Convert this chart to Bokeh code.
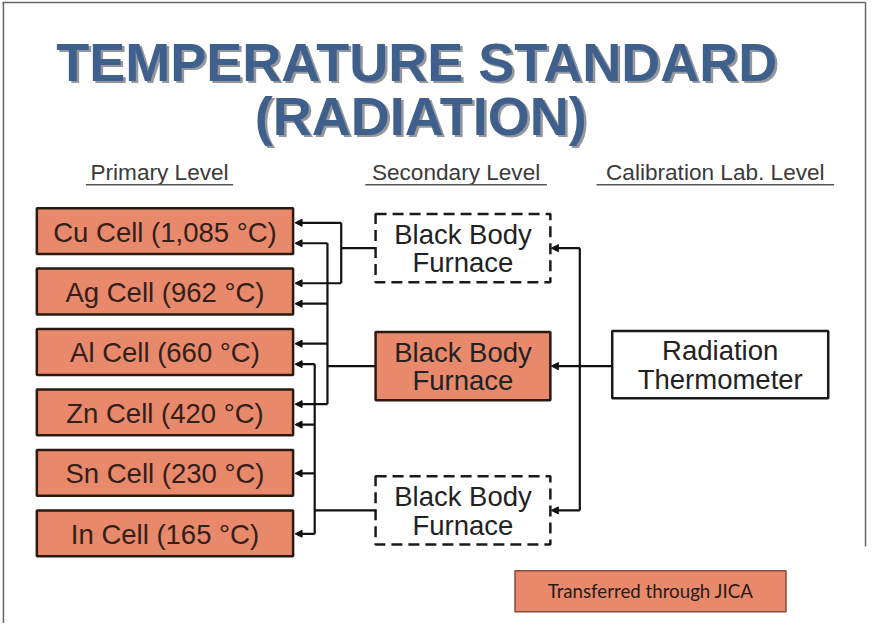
from bokeh.plotting import figure
from bokeh.models import Range1d, ColumnDataSource, Arrow, NormalHead
from bokeh.core.properties import value
from bokeh.embed import file_html
from bokeh.resources import INLINE

# ---------------- content ----------------
title_lines = ["TEMPERATURE STANDARD", "(RADIATION)"]
level_labels = ["Primary Level", "Secondary Level", "Calibration Lab. Level"]
cell_elements = ["Cu", "Ag", "Al", "Zn", "Sn", "In"]
cell_temps = ["1,085", "962", "660", "420", "230", "165"]
furnace_label = ["Black Body", "Furnace"]
furnace_transferred = [False, True, False]
furnace_links = [["Cu", "Ag"], ["Cu", "Ag", "Al", "Zn"], ["Al", "Zn", "Sn", "In"]]
instrument_label = ["Radiation", "Thermometer"]
legend_label = "Transferred through JICA"

# ---------------- layout (pixels of the 883x639 picture) ----------------
W, H = 867, 623
RW, RH = 883, 639
S = W / RW
def px(n):
    return f"{n * S:.1f}px"

SALMON = "#E9896B"
EDGE = "#2a1a12"
FONT = "Liberation Sans"
TITLE_FONT = "Liberation Sans"

CELL_L, CELL_R = 37, 298
CELL_TOP0, CELL_H, CELL_STEP = 213, 47, 62
SLOT2 = [15, 36]
SLOT1 = 24
BUS_X = [347, 333, 320]
FUR_L, FUR_R = 382, 560
FUR_TOP = [219, 340, 488]
FUR_H = 70
RIGHT_BUS_X = 590
TH_L, TH_R, TH_T, TH_B = 623, 843, 339, 408

p = figure(width=W, height=H, x_range=Range1d(0, RW), y_range=Range1d(RH, 0),
           output_backend="svg", toolbar_location=None, min_border=0)
p.axis.visible = False
p.grid.visible = False
p.outline_line_color = None
p.background_fill_color = "white"

# frame (top, left, right)
p.segment(x0=[2, 3, 881], y0=[2, 2, 2], x1=[881, 3, 881], y1=[2, 639, 560],
          line_color="#666666", line_width=1.5)

# title
title_y = [63, 118]
title_x = [424, 428]
p.text(x=[x + 2.5 for x in title_x], y=[y + 2.5 for y in title_y], text=title_lines,
       text_font=value(TITLE_FONT), text_font_style="bold", text_font_size=px(55),
       text_color="#2a2f38", text_alpha=0.5, text_align="center", text_baseline="middle")
p.text(x=title_x, y=title_y, text=title_lines,
       text_font=value(TITLE_FONT), text_font_style="bold", text_font_size=px(55),
       text_color="#3f5f8c", text_align="center", text_baseline="middle")

# level headers
hx = [162, 464, 728]
hw = [150, 185, 242]
p.text(x=hx, y=[176] * 3, text=level_labels, text_font=value(FONT), text_font_size=px(23),
       text_color="#3a3a3a", text_align="center", text_baseline="middle")
p.segment(x0=[x - w / 2 for x, w in zip(hx, hw)], x1=[x + w / 2 for x, w in zip(hx, hw)],
          y0=[189] * 3, y1=[189] * 3, line_color="#555555", line_width=1.5)

# cells
cell_top = [CELL_TOP0 + i * CELL_STEP for i in range(len(cell_elements))]
p.quad(left=[CELL_L] * 6, right=[CELL_R] * 6, top=cell_top, bottom=[t + CELL_H for t in cell_top],
       fill_color=SALMON, line_color=EDGE, line_width=2.5)
p.text(x=[(CELL_L + CELL_R) / 2] * 6, y=[t + CELL_H / 2 + 1 for t in cell_top],
       text=[f"{e} Cell ({t} °C)" for e, t in zip(cell_elements, cell_temps)],
       text_font=value(FONT), text_font_size=px(28), text_color="#33201a",
       text_align="center", text_baseline="middle")

# furnaces
fur_cy = [t + FUR_H / 2 for t in FUR_TOP]
for i, t in enumerate(FUR_TOP):
    if furnace_transferred[i]:
        p.quad(left=[FUR_L], right=[FUR_R], top=[t], bottom=[t + FUR_H],
               fill_color=SALMON, line_color=EDGE, line_width=2.5)
    else:
        p.quad(left=[FUR_L], right=[FUR_R], top=[t], bottom=[t + FUR_H],
               fill_color="white", line_color="#1a1a1a", line_width=2.5, line_dash="11 6")
    p.text(x=[(FUR_L + FUR_R) / 2] * 2, y=[fur_cy[i] - 14, fur_cy[i] + 15], text=furnace_label,
           text_font=value(FONT), text_font_size=px(28), text_color="#222222",
           text_align="center", text_baseline="middle")

# connections cells <- furnaces
links_per_cell = {e: [] for e in cell_elements}
for fi, lst in enumerate(furnace_links):
    for e in lst:
        links_per_cell[e].append(fi)
arrow_y = {}
for ci, e in enumerate(cell_elements):
    fl = links_per_cell[e]
    for k, fi in enumerate(fl):
        off = SLOT2[k] if len(fl) == 2 else SLOT1
        arrow_y[(fi, e)] = cell_top[ci] + off

ax0, ay0, ax1, ay1 = [], [], [], []
sx0, sy0, sx1, sy1 = [], [], [], []
for fi, lst in enumerate(furnace_links):
    ys = [arrow_y[(fi, e)] for e in lst]
    bx = BUS_X[fi]
    sx0 += [bx, bx]; sx1 += [bx, FUR_L]
    sy0 += [min(ys + [fur_cy[fi]]), fur_cy[fi]]; sy1 += [max(ys + [fur_cy[fi]]), fur_cy[fi]]
    for y in ys:
        ax0.append(bx); ay0.append(y); ax1.append(CELL_R + 2); ay1.append(y)

# right side: thermometer -> furnaces
sx0 += [RIGHT_BUS_X]; sx1 += [RIGHT_BUS_X]; sy0 += [fur_cy[0]]; sy1 += [fur_cy[2]]
for fi in (0, 2):
    ax0.append(RIGHT_BUS_X); ay0.append(fur_cy[fi]); ax1.append(FUR_R + 1); ay1.append(fur_cy[fi])
ax0.append(TH_L); ay0.append(fur_cy[1]); ax1.append(FUR_R + 1); ay1.append(fur_cy[1])

p.segment(x0=sx0, y0=sy0, x1=sx1, y1=sy1, line_color="#111111", line_width=2.2)
src = ColumnDataSource(dict(x0=ax0, y0=ay0, x1=ax1, y1=ay1))
p.add_layout(Arrow(end=NormalHead(size=7, fill_color="#111111", line_color="#111111", line_width=1),
                   x_start="x0", y_start="y0", x_end="x1", y_end="y1", source=src,
                   line_color="#111111", line_width=2.2))

# thermometer
p.quad(left=[TH_L], right=[TH_R], top=[TH_T], bottom=[TH_B], fill_color="white",
       line_color="#1a1a1a", line_width=2.5)
th_cy = (TH_T + TH_B) / 2
p.text(x=[(TH_L + TH_R) / 2] * 2, y=[th_cy - 14, th_cy + 15], text=instrument_label,
       text_font=value(FONT), text_font_size=px(28), text_color="#222222",
       text_align="center", text_baseline="middle")

# legend
p.quad(left=[524], right=[800], top=[585], bottom=[627], fill_color=SALMON,
       line_color="#8a4a35", line_width=1.5)
p.text(x=[662], y=[606], text=[legend_label], text_font=value("Lato"), text_font_size=px(19),
       text_color="#2a1a14", text_align="center", text_baseline="middle")

open("out.html", "w").write(file_html(p, INLINE))
